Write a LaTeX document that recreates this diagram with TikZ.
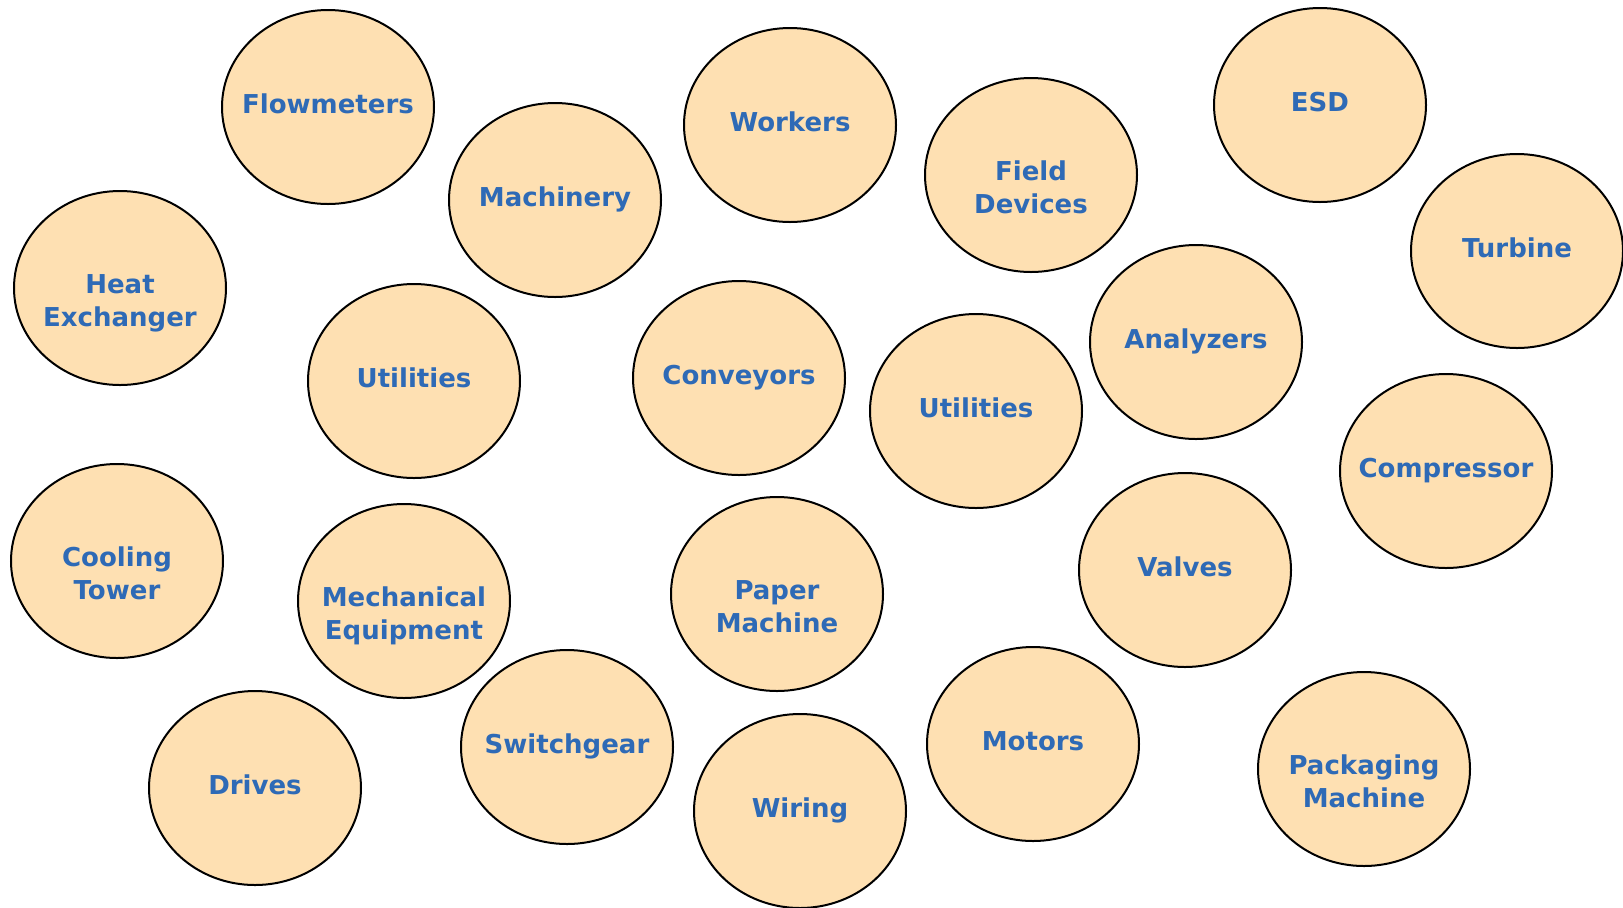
\documentclass[tikz,border=0pt]{standalone}
\usepackage{fontspec}
\setmainfont{DejaVu Sans}
\usetikzlibrary{shapes.geometric}

\newlength{\du}
\setlength{\du}{10pt}

\definecolor{bubblefill}{rgb}{0.996000, 0.878000, 0.698000}
\definecolor{tagcolor}{rgb}{0.180000, 0.416000, 0.714000}

\tikzset{
  bubble/.style={ellipse, draw=black, fill=bubblefill, line width=0.100000\du,
    minimum width=10.600000\du, minimum height=9.700000\du, inner sep=0pt},
  tag/.style={text=tagcolor, font=\fontsize{13pt}{16.5pt}\selectfont\bfseries,
    align=center, text depth=0pt, inner sep=0pt}
}

\begin{document}
\begin{tikzpicture}
\pgftransformxscale{1.000000}
\pgftransformyscale{-1.000000}
\useasboundingbox (0.000000\du,0.000000\du) rectangle (81.150000\du,45.350000\du);
% top row
\node[bubble] (flow) at (16.400000\du,5.350000\du) {};
\node[tag] (flow-t) at (16.400000\du,5.200000\du) {Flowmeters};
\node[bubble] (mach) at (27.750000\du,10.000000\du) {};
\node[tag] (mach-t) at (27.750000\du,9.850000\du) {Machinery};
\node[bubble] (work) at (39.500000\du,6.250000\du) {};
\node[tag] (work-t) at (39.500000\du,6.100000\du) {Workers};
\node[bubble] (field) at (51.550000\du,8.750000\du) {};
\node[tag] (field-t) at (51.550000\du,9.370000\du) {Field\\Devices};
\node[bubble] (esd) at (66.000000\du,5.250000\du) {};
\node[tag] (esd-t) at (66.000000\du,5.100000\du) {ESD};
\node[bubble] (turb) at (75.850000\du,12.550000\du) {};
\node[tag] (turb-t) at (75.850000\du,12.400000\du) {Turbine};
% middle rows
\node[bubble] (heat) at (6.000000\du,14.400000\du) {};
\node[tag] (heat-t) at (6.000000\du,15.020000\du) {Heat\\Exchanger};
\node[bubble] (util1) at (20.700000\du,19.050000\du) {};
\node[tag] (util1-t) at (20.700000\du,18.900000\du) {Utilities};
\node[bubble] (conv) at (36.950000\du,18.900000\du) {};
\node[tag] (conv-t) at (36.950000\du,18.750000\du) {Conveyors};
\node[bubble] (util2) at (48.800000\du,20.550000\du) {};
\node[tag] (util2-t) at (48.800000\du,20.400000\du) {Utilities};
\node[bubble] (anal) at (59.800000\du,17.100000\du) {};
\node[tag] (anal-t) at (59.800000\du,16.950000\du) {Analyzers};
\node[bubble] (comp) at (72.300000\du,23.550000\du) {};
\node[tag] (comp-t) at (72.300000\du,23.400000\du) {Compressor};
\node[bubble] (cool) at (5.850000\du,28.050000\du) {};
\node[tag] (cool-t) at (5.850000\du,28.670000\du) {Cooling\\Tower};
\node[bubble] (mech) at (20.200000\du,30.050000\du) {};
\node[tag] (mech-t) at (20.200000\du,30.670000\du) {Mechanical\\Equipment};
\node[bubble] (paper) at (38.850000\du,29.700000\du) {};
\node[tag] (paper-t) at (38.850000\du,30.320000\du) {Paper\\Machine};
\node[bubble] (valv) at (59.250000\du,28.500000\du) {};
\node[tag] (valv-t) at (59.250000\du,28.350000\du) {Valves};
% bottom row
\node[bubble] (swgr) at (28.350000\du,37.350000\du) {};
\node[tag] (swgr-t) at (28.350000\du,37.200000\du) {Switchgear};
\node[bubble] (driv) at (12.750000\du,39.400000\du) {};
\node[tag] (driv-t) at (12.750000\du,39.250000\du) {Drives};
\node[bubble] (wire) at (40.000000\du,40.550000\du) {};
\node[tag] (wire-t) at (40.000000\du,40.400000\du) {Wiring};
\node[bubble] (motr) at (51.650000\du,37.200000\du) {};
\node[tag] (motr-t) at (51.650000\du,37.050000\du) {Motors};
\node[bubble] (pack) at (68.200000\du,38.450000\du) {};
\node[tag] (pack-t) at (68.200000\du,39.070000\du) {Packaging\\Machine};
\end{tikzpicture}
\end{document}
